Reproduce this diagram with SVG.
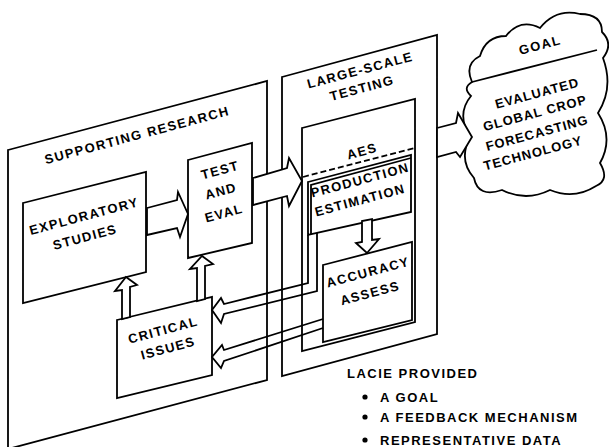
<svg xmlns="http://www.w3.org/2000/svg" width="609" height="447" viewBox="0 0 609 447">
<style>
.ln{fill:none;stroke:#000;stroke-width:1.8;stroke-linejoin:miter}
.bx{fill:#fff;stroke:#000;stroke-width:1.8}
.ar{fill:#fff;stroke:#000;stroke-width:1.8;stroke-linejoin:miter}
.t{font-family:"Liberation Sans",Arial,sans-serif;font-weight:bold;font-size:13px;letter-spacing:1.4px;fill:#000;text-anchor:middle}
.c{letter-spacing:1px}
.l{font-family:"Liberation Sans",Arial,sans-serif;font-weight:bold;font-size:13px;letter-spacing:1.5px;fill:#000}
</style>
<rect width="609" height="447" fill="#fff"/>
<g id="supporting-research">
<polygon class="bx" points="8,150 267,81 267,380 8,449"/>
<text class="t" style="letter-spacing:1.5px" transform="translate(137,135) rotate(-15)" x="0" y="4.6">SUPPORTING RESEARCH</text>
</g>
<g id="large-scale-testing">
<polygon class="bx" points="282,77 437,35 437,334 282,376"/>
<text class="t" transform="translate(360,70) rotate(-15)"><tspan x="0" y="4.6">LARGE-SCALE</tspan><tspan x="-2.7" y="22.5">TESTING</tspan></text>
</g>
<g id="exploratory-studies">
<polygon class="bx" points="23,203 146,172 146,272 23,303"/>
<text class="t" transform="translate(84,216) rotate(-15)"><tspan x="0" y="4.6">EXPLORATORY</tspan><tspan x="-4.5" y="25.1">STUDIES</tspan></text>
</g>
<g id="test-and-eval">
<polygon class="bx" points="188,160 252,143 252,243 188,258"/>
<text class="t" transform="translate(220,170) rotate(-15)"><tspan x="0" y="4.6">TEST</tspan><tspan x="-4.5" y="25.1">AND</tspan><tspan x="-7.3" y="47.2">EVAL</tspan></text>
</g>
<g id="aes">
<polygon class="bx" points="302,128 415,99 415,322 302,351"/>
<line class="ln" x1="303" y1="177" x2="415" y2="148" stroke-dasharray="6,3"/>
<text class="t" transform="translate(362,151) rotate(-15)" x="0" y="4.6">AES</text>
</g>
<g id="production-estimation">
<polygon class="bx" points="308,182 411,155 411,212 308,235"/>
<polyline class="ln" points="311,234 311,185 411,158"/>
<text class="t" transform="translate(360,180) rotate(-15)"><tspan x="0" y="4.6">PRODUCTION</tspan><tspan x="-5.2" y="23.9">ESTIMATION</tspan></text>
</g>
<g id="accuracy-assess">
<polygon class="bx" points="323,265 412,242 412,320 323,342"/>
<text class="t" transform="translate(368,272) rotate(-15)"><tspan x="0" y="4.6">ACCURACY</tspan><tspan x="-3.5" y="25.4">ASSESS</tspan></text>
</g>
<g id="critical-issues">
<polygon class="bx" points="117,320 212,297 212,375 117,398"/>
<text class="t" transform="translate(163,330) rotate(-15)"><tspan x="0" y="4.6">CRITICAL</tspan><tspan x="0.2" y="23.3">ISSUES</tspan></text>
</g>
<g id="goal">
<path class="bx" d="M472,82 Q464,64 480,56 Q486,36 506,36 Q520,18 540,28 Q556,8 580,14 Q602,14 602,32 Q614,44 603,58 Q614,88 598,113 Q614,138 600,163 Q610,180 596,186 Q574,200 550,190 Q526,202 502,190 Q478,198 474,178 Q458,160 470,137 Q456,114 471,96 Q462,88 472,82 Z"/>
<line class="ln" x1="472" y1="82" x2="597" y2="50"/>
<text class="t" transform="translate(540,45) rotate(-15)" x="0" y="4.6">GOAL</text>
<text class="t c" transform="translate(537,93) rotate(-15)"><tspan x="0" y="4.6">EVALUATED</tspan><tspan x="-7.1" y="23.4">GLOBAL CROP</tspan><tspan x="-10.4" y="43.2">FORECASTING</tspan><tspan x="-19.4" y="61.5">TECHNOLOGY</tspan></text>
</g>
<g id="connectors">
<path class="ar" d="M147,208 L177,200 L178,192 L188,214 L180,237 L177,228 L147,235 Z"/>
<path class="ar" d="M253,178 L287,168 L289,158 L302,181 L289,206 L287,196 L253,205 Z"/>
<path class="ar" d="M437,128 L456,123 L458,113 L472,137 L460,157 L456,152 L437,157 Z"/>
<path class="ar" d="M362,221 V242 L356,243 L367,253 L379,239 L372,240 V219 Z"/>
<path class="ar" d="M122,319 V290 L115,291 L126,277 L137,285 L130,287 V317 Z"/>
<path class="ar" d="M197,301 V268 L190,269 L202,256 L213,264 L205,266 V299 Z"/>
<path class="ln" d="M308,235 V283 L224,304 L221,298 L212,310 L221,323 L224,314 L317,291 V233"/>
<path class="ln" d="M323,319 L224,350 L222,345 L212,357 L221,368 L224,361 L323,328"/>
</g>
<g id="legend">
<text class="l" x="347" y="378">LACIE PROVIDED</text>
<circle cx="365" cy="397" r="2.6"/>
<text class="l" x="380" y="402">A GOAL</text>
<circle cx="365" cy="417" r="2.6"/>
<text class="l" x="380" y="422">A FEEDBACK MECHANISM</text>
<circle cx="365" cy="440" r="2.6"/>
<text class="l" x="380" y="445">REPRESENTATIVE DATA</text>
</g>
</svg>
